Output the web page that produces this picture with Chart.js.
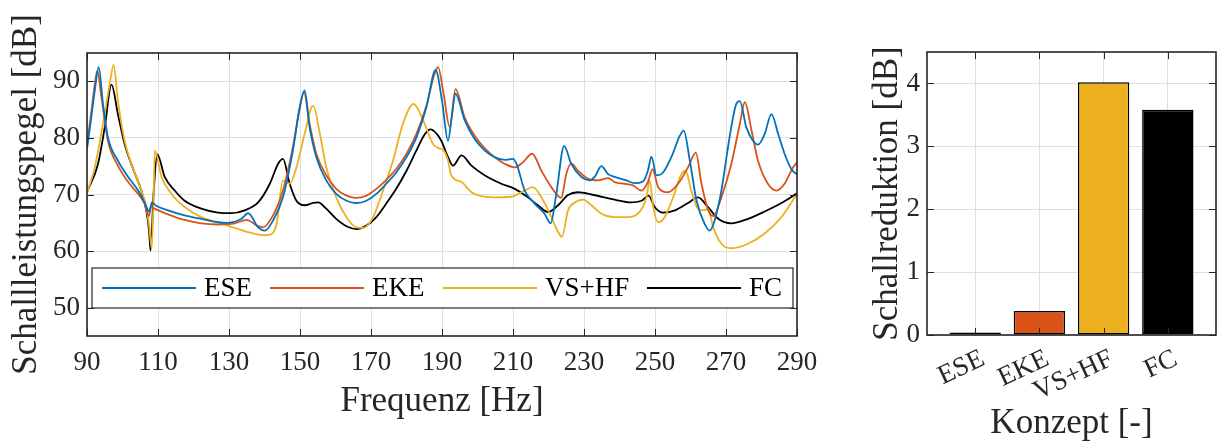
<!DOCTYPE html>
<html>
<head>
<meta charset="utf-8">
<script src="https://cdn.jsdelivr.net/npm/chart.js@4.4.1/dist/chart.umd.min.js"></script>
<style>
  html, body { margin: 0; padding: 0; background: #fff; overflow: hidden; }
  #wrap { position: relative; width: 1217px; height: 441px; }
  #spektrum { position: absolute; left: 0; top: 0; }
  #reduktion { position: absolute; left: 840px; top: 0; }
</style>
</head>
<body>
<div id="wrap">
  <canvas id="spektrum" width="840" height="441"></canvas>
  <canvas id="reduktion" width="377" height="441"></canvas>
</div>
<script>
// Schallleistungspegel über Frequenz für die vier Konzepte
var freqESE = [90, 91.2, 92.2, 93.3, 94.5, 95.9, 98.7, 101.6, 104.4, 106.2, 107.5, 108.3, 109.5, 112.8, 117.5, 122.2, 126.9, 129.7, 133.5, 135.4, 138.2, 140.1, 142.4, 145.2, 148.0, 149.9, 151.3, 152.7, 154.6, 157.4, 160.2, 163.1, 165.9, 168.7, 171.5, 174.3, 177.1, 180.0, 182.8, 185.6, 188.2, 190.0, 191.7, 192.8, 193.8, 196.4, 199.2, 202.0, 204.8, 207.7, 210.0, 211.0, 213.3, 216.1, 218.9, 220.6, 222.2, 224.4, 226.4, 229.3, 231.6, 233.0, 234.9, 236.8, 238.6, 241.5, 244.3, 246.6, 248.0, 249.0, 250.4, 251.8, 254.6, 257.0, 258.1, 259.8, 261.7, 264.0, 265.4, 266.8, 268.7, 271.0, 272.9, 273.9, 275.7, 277.6, 279.0, 280.9, 282.8, 284.7, 286.5, 288.4, 290];
var dbESE = [78.0, 83.6, 88.4, 92.5, 86.0, 80.1, 76.0, 73.1, 70.7, 68.6, 67.0, 68.6, 68.0, 67.2, 66.3, 65.7, 65.1, 65.0, 65.7, 66.7, 64.2, 63.6, 65.4, 69.5, 77.8, 85.4, 88.4, 81.9, 76.6, 72.5, 70.1, 68.9, 68.5, 68.9, 70.1, 71.9, 73.9, 76.6, 80.1, 85.4, 92.0, 86.6, 79.5, 84.0, 87.8, 83.1, 79.8, 77.8, 76.6, 76.1, 76.3, 75.4, 70.7, 68.4, 66.6, 64.9, 70.1, 78.6, 75.4, 73.1, 72.5, 73.1, 75.0, 73.6, 73.1, 72.6, 72.0, 72.3, 74.2, 76.7, 73.4, 73.6, 76.6, 80.4, 81.3, 76.0, 68.9, 64.8, 63.6, 65.4, 70.7, 80.1, 86.0, 86.5, 81.9, 79.5, 78.8, 80.7, 84.2, 80.7, 77.2, 74.5, 73.5];

var freqEKE = [90, 91.2, 92.2, 92.9, 94.0, 95.9, 98.7, 101.6, 104.4, 106.2, 107.4, 108.1, 109.0, 112.8, 117.5, 122.2, 126.9, 131.6, 134.9, 138.2, 139.6, 142.4, 145.2, 148.0, 149.9, 151.1, 152.7, 154.6, 157.4, 160.2, 163.1, 165.9, 168.7, 171.5, 174.3, 177.1, 180.0, 182.8, 185.6, 187.9, 188.9, 190.3, 192.2, 193.8, 196.4, 199.2, 202.0, 204.8, 207.7, 210.5, 212.8, 215.4, 218.0, 220.8, 223.6, 225.0, 226.4, 228.3, 231.1, 234.0, 236.8, 238.6, 241.5, 243.8, 246.2, 248.0, 249.3, 250.9, 253.7, 256.5, 259.3, 261.5, 263.1, 265.0, 266.4, 268.7, 271.5, 273.9, 275.3, 277.2, 279.0, 281.8, 284.2, 286.5, 288.9, 290];
var dbEKE = [78.8, 84.5, 89.5, 91.9, 87.5, 79.5, 75.1, 72.2, 70.1, 68.4, 66.2, 67.8, 67.5, 66.5, 65.5, 64.9, 64.7, 64.9, 65.5, 64.4, 64.2, 66.3, 70.7, 78.4, 85.1, 88.1, 82.5, 77.2, 73.4, 71.0, 69.8, 69.4, 69.8, 71.0, 72.6, 74.5, 77.2, 80.7, 85.7, 91.3, 92.5, 88.4, 81.9, 88.6, 83.6, 80.4, 78.2, 76.6, 75.4, 74.8, 75.7, 77.2, 74.2, 71.3, 69.4, 73.6, 75.5, 74.2, 72.8, 72.5, 72.9, 72.2, 71.9, 71.6, 70.7, 72.2, 74.5, 71.3, 70.4, 71.9, 74.8, 77.4, 71.9, 67.2, 66.2, 69.5, 75.4, 82.5, 86.3, 81.3, 76.0, 71.9, 70.7, 71.9, 74.8, 75.7];

var freqVSHF = [90, 92.2, 94.0, 96.4, 97.5, 98.7, 100.6, 102.5, 104.8, 106.7, 107.6, 108.2, 108.7, 109.1, 111.0, 113.8, 117.5, 122.2, 126.9, 131.6, 136.3, 140.1, 141.5, 143.4, 145.2, 147.1, 149.0, 151.3, 153.7, 155.6, 157.4, 160.2, 163.1, 165.9, 167.8, 170.6, 173.4, 176.2, 179.0, 182.0, 184.7, 187.5, 189.4, 190.3, 191.7, 192.6, 195.5, 198.3, 201.1, 204.8, 209.5, 213.3, 215.6, 218.0, 220.8, 222.7, 223.8, 225.5, 227.4, 229.7, 232.1, 234.9, 238.6, 242.4, 245.2, 247.6, 248.5, 249.5, 250.9, 252.7, 255.1, 257.4, 258.6, 260.2, 262.1, 263.8, 264.9, 266.4, 268.7, 271.5, 276.2, 280.9, 285.6, 290];
var dbVSHF = [70.2, 74.8, 80.7, 89.5, 92.9, 86.6, 79.5, 75.4, 71.6, 67.8, 64.0, 60.5, 68.0, 77.8, 73.1, 70.1, 67.8, 66.0, 65.1, 64.1, 63.2, 62.8, 62.9, 64.8, 72.5, 71.9, 74.8, 80.7, 85.7, 80.7, 74.8, 69.5, 66.0, 64.2, 64.1, 66.0, 70.7, 76.0, 82.5, 86.0, 83.1, 78.9, 78.1, 77.9, 76.0, 73.4, 72.2, 70.4, 69.7, 69.5, 69.6, 70.7, 71.3, 69.5, 66.0, 63.4, 62.5, 67.2, 68.6, 69.1, 68.1, 66.6, 66.0, 66.0, 66.6, 69.5, 72.5, 67.8, 65.1, 66.0, 69.5, 73.6, 74.2, 70.7, 67.5, 67.2, 67.5, 64.2, 61.3, 60.5, 61.3, 63.1, 66.0, 70.1];

var freqFC = [90, 93.1, 95.0, 96.9, 98.7, 100.6, 103.0, 105.3, 106.7, 107.5, 107.9, 108.8, 109.8, 111.9, 114.7, 117.5, 122.2, 126.9, 130.7, 134.4, 138.2, 141.5, 143.8, 145.2, 147.1, 149.0, 151.3, 153.7, 155.1, 157.4, 160.2, 163.1, 165.9, 168.7, 171.5, 174.3, 177.1, 180.0, 182.8, 185.1, 186.8, 188.4, 189.8, 191.7, 193.1, 195.5, 198.3, 202.0, 206.7, 210.5, 214.2, 217.0, 219.9, 222.7, 225.5, 228.3, 232.1, 238.6, 243.3, 246.2, 248.2, 249.9, 252.3, 255.6, 259.3, 262.1, 264.9, 267.8, 271.5, 276.2, 280.9, 285.6, 290];
var dbFC = [70.4, 75.4, 81.9, 89.4, 84.2, 78.9, 74.5, 70.7, 67.2, 63.5, 60.1, 70.7, 77.1, 73.1, 70.7, 68.9, 67.5, 66.8, 66.7, 67.2, 68.6, 71.9, 75.4, 76.3, 71.9, 68.9, 68.1, 68.5, 68.6, 67.5, 65.7, 64.4, 63.9, 64.5, 66.0, 68.4, 71.0, 74.2, 77.8, 80.6, 81.5, 80.8, 79.5, 76.6, 75.1, 76.9, 75.1, 73.4, 71.9, 71.0, 69.5, 68.1, 66.9, 68.1, 69.9, 70.4, 70.0, 69.1, 68.6, 68.9, 69.8, 67.8, 66.8, 67.2, 68.5, 69.5, 67.8, 65.7, 64.9, 65.7, 67.0, 68.5, 70.2];

var freqTicks = [90, 110, 130, 150, 170, 190, 210, 230, 250, 270, 290];
var pegelTicks = [50, 60, 70, 80, 90];

// Schallreduktion je Konzept
var konzepte = ["ESE", "EKE", "VS+HF", "FC"];
var reduktion = [0.04, 0.38, 4.02, 3.58];
var reduktionTicks = [0, 1, 2, 3, 4];

var farben = ["#0072BD", "#D95319", "#EDB120", "#000000"];
var FONT = "\"Liberation Serif\", \"Times New Roman\", serif";
var TEXT = "#262626";

(function () {
  function pairs(xs, ys) {
    return xs.map(function (x, i) { return { x: x, y: ys[i] }; });
  }

  function setTicks(values) {
    return function (scale) {
      scale.ticks = values.map(function (v) { return { value: v }; });
    };
  }

  // Rahmen mit nach innen zeigenden Ticks auf allen vier Seiten
  var boxTicksPlugin = {
    id: "boxTicks",
    afterDatasetsDraw: function (chart) {
      var a = chart.chartArea;
      var ctx = chart.ctx;
      var xs = chart.scales.x;
      var ys = chart.scales.y;
      var len = 7;
      ctx.save();
      ctx.strokeStyle = TEXT;
      ctx.lineWidth = 1;
      ctx.beginPath();
      xs.ticks.forEach(function (t) {
        var x = Math.round(xs.getPixelForValue(t.value)) + 0.5;
        ctx.moveTo(x, a.bottom);
        ctx.lineTo(x, a.bottom - len);
        ctx.moveTo(x, a.top);
        ctx.lineTo(x, a.top + len);
      });
      ys.ticks.forEach(function (t) {
        var y = Math.round(ys.getPixelForValue(t.value)) + 0.5;
        ctx.moveTo(a.left, y);
        ctx.lineTo(a.left + len, y);
        ctx.moveTo(a.right, y);
        ctx.lineTo(a.right - len, y);
      });
      ctx.stroke();
      ctx.lineWidth = 1.6;
      ctx.strokeRect(a.left, a.top, a.right - a.left, a.bottom - a.top);
      ctx.restore();
    },
  };

  // Legende im unteren Teil des Diagramms, einzeilig
  var legendBoxPlugin = {
    id: "legendBox",
    afterDatasetsDraw: function (chart) {
      var a = chart.chartArea;
      var ctx = chart.ctx;
      var left = a.left + 5;
      var right = a.right - 4;
      var bottom = a.bottom - 28;
      var top = bottom - 40;
      var mid = (top + bottom) / 2;
      var starts = [10, 178, 351, 555];
      ctx.save();
      ctx.fillStyle = "#fff";
      ctx.fillRect(left, top, right - left, bottom - top);
      ctx.strokeStyle = TEXT;
      ctx.lineWidth = 1.2;
      ctx.strokeRect(left, top, right - left, bottom - top);
      ctx.font = "27px " + FONT;
      ctx.textBaseline = "middle";
      ctx.textAlign = "left";
      chart.data.datasets.forEach(function (ds, i) {
        var x0 = left + starts[i];
        ctx.strokeStyle = ds.borderColor;
        ctx.lineWidth = 1.8;
        ctx.beginPath();
        ctx.moveTo(x0, mid);
        ctx.lineTo(x0 + 94, mid);
        ctx.stroke();
        ctx.fillStyle = "#000";
        ctx.fillText(ds.label, x0 + 102, mid + 1);
      });
      ctx.restore();
    },
  };

  function lineSet(label, xs, ys, color) {
    return {
      label: label,
      data: pairs(xs, ys),
      borderColor: color,
      backgroundColor: color,
      borderWidth: 1.8,
      pointRadius: 0,
      fill: false,
      cubicInterpolationMode: "monotone",
    };
  }

  new Chart(document.getElementById("spektrum"), {
    type: "line",
    data: {
      datasets: [
        lineSet("ESE", freqESE, dbESE, farben[0]),
        lineSet("EKE", freqEKE, dbEKE, farben[1]),
        lineSet("VS+HF", freqVSHF, dbVSHF, farben[2]),
        lineSet("FC", freqFC, dbFC, farben[3]),
      ],
    },
    options: {
      responsive: false,
      animation: false,
      layout: { padding: { top: 53, right: 43, left: 0, bottom: 0 } },
      plugins: { legend: { display: false }, tooltip: { enabled: false } },
      scales: {
        x: {
          type: "linear",
          min: 90,
          max: 290,
          afterBuildTicks: setTicks(freqTicks),
          afterFit: function (s) { s.height = 105; },
          grid: { color: "#dfdfdf", drawTicks: false },
          border: { display: false },
          ticks: { color: TEXT, padding: 11, maxRotation: 0, font: { family: FONT, size: 27 } },
          title: {
            display: true,
            text: "Frequenz [Hz]",
            color: TEXT,
            font: { family: FONT, size: 35 },
            padding: { top: 0, bottom: 18 },
          },
        },
        y: {
          min: 45,
          max: 95,
          afterBuildTicks: setTicks(pegelTicks),
          afterFit: function (s) { s.width = 87; },
          grid: { color: "#dfdfdf", drawTicks: false },
          border: { display: false },
          ticks: { color: TEXT, padding: 7, font: { family: FONT, size: 27 } },
          title: {
            display: true,
            text: "Schallleistungspegel [dB]",
            color: TEXT,
            font: { family: FONT, size: 35 },
            padding: { top: 6, bottom: 0 },
          },
        },
      },
    },
    plugins: [boxTicksPlugin, legendBoxPlugin],
  });

  new Chart(document.getElementById("reduktion"), {
    type: "bar",
    data: {
      datasets: [{
        data: pairs([1, 2, 3, 4], reduktion),
        backgroundColor: farben,
        borderColor: "#000",
        borderWidth: 1.5,
        borderSkipped: false,
        categoryPercentage: 1,
        barPercentage: 0.8,
      }],
    },
    options: {
      responsive: false,
      animation: false,
      layout: { padding: { top: 52, right: 1, left: 0, bottom: 0 } },
      plugins: { legend: { display: false }, tooltip: { enabled: false } },
      scales: {
        x: {
          type: "linear",
          min: 0.25,
          max: 4.75,
          offset: false,
          afterBuildTicks: setTicks([1, 2, 3, 4]),
          afterFit: function (s) { s.height = 106; },
          grid: { color: "#dfdfdf", drawTicks: false, offset: false },
          border: { display: false },
          ticks: {
            color: TEXT,
            padding: 8,
            labelOffset: 8,
            autoSkip: false,
            minRotation: 25,
            maxRotation: 25,
            font: { family: FONT, size: 27 },
            callback: function (v) { return konzepte[v - 1]; },
          },
          title: {
            display: true,
            text: "Konzept [-]",
            color: TEXT,
            font: { family: FONT, size: 35 },
            padding: { top: 0, bottom: -4 },
          },
        },
        y: {
          min: 0,
          max: 4.5,
          afterBuildTicks: setTicks(reduktionTicks),
          afterFit: function (s) { s.width = 87; },
          grid: { color: "#dfdfdf", drawTicks: false },
          border: { display: false },
          ticks: { color: TEXT, padding: 7, font: { family: FONT, size: 27 } },
          title: {
            display: true,
            text: "Schallreduktion [dB]",
            color: TEXT,
            font: { family: FONT, size: 35 },
            padding: { top: 27, bottom: 0 },
          },
        },
      },
    },
    plugins: [boxTicksPlugin],
  });
})();
</script>
</body>
</html>
